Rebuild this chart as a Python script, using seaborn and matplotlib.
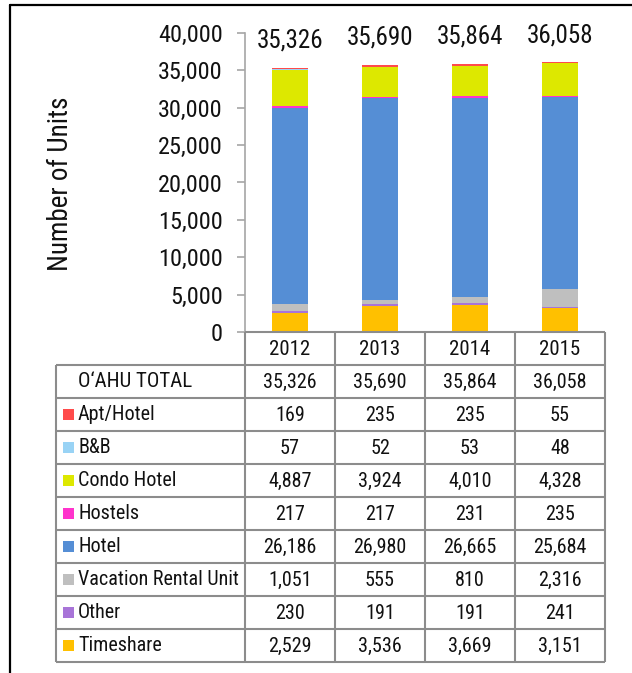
import numpy as np
import matplotlib
matplotlib.use("Agg")
import matplotlib.pyplot as plt
import seaborn as sns
from matplotlib.patches import Rectangle
from matplotlib.lines import Line2D

# ---------------- data ----------------
years = ["2012", "2013", "2014", "2015"]
totals = [35326, 35690, 35864, 36058]
categories = ["Apt/Hotel", "B&B", "Condo Hotel", "Hostels", "Hotel",
              "Vacation Rental Unit", "Other", "Timeshare"]
apt_hotel = [169, 235, 235, 55]
bnb = [57, 52, 53, 48]
condo_hotel = [4887, 3924, 4010, 4328]
hostels = [217, 217, 231, 235]
hotel = [26186, 26980, 26665, 25684]
vacation_rental = [1051, 555, 810, 2316]
other = [230, 191, 191, 241]
timeshare = [2529, 3536, 3669, 3151]
colors = ["#FF4B4B", "#99D3F5", "#DDE800", "#FF33CC", "#558ED5",
          "#BFBFBF", "#A874D8", "#FFC000"]
series = [apt_hotel, bnb, condo_hotel, hostels, hotel, vacation_rental, other, timeshare]
total_label = "O\u2018AHU TOTAL"

# ---------------- style ----------------
sns.set_theme(style="white")
plt.rcParams["font.family"] = ["Roboto Condensed", "Liberation Sans", "DejaVu Sans"]
txt = "#111111"
grid_c = "#8C8C8C"
tick_fs = 17.5
total_fs = 18
small = 14.5

W, H = 632, 673
fig = plt.figure(figsize=(W / 100, H / 100), dpi=100)

def fx(px):
    return px / W

def fy(py):
    return 1 - py / H

# ---------------- bar chart ----------------
ax = fig.add_axes([fx(245), fy(332), fx(605) - fx(245), fy(33) - fy(332)])
bottom = np.zeros(len(years))
# stack from bottom: Timeshare ... Apt/Hotel
for name, vals, col in reversed(list(zip(categories, series, colors))):
    sns.barplot(x=years, y=vals, bottom=bottom, color=col, saturation=1,
                width=0.4, errorbar=None, ax=ax, linewidth=0)
    bottom = bottom + np.array(vals)

ax.set_xlim(-0.5, 3.5)
ax.set_ylim(0, 40000)
ax.set_xticks([])
ax.set_xlabel("")
ax.set_ylabel("")
ax.set_yticks(range(0, 40001, 5000))
ax.set_yticklabels([f"{v:,}" for v in range(0, 40001, 5000)])
ax.tick_params(axis="y", left=True, direction="out", length=6, width=1.2,
               color="#A6A6A6", labelsize=tick_fs, labelcolor=txt, pad=10)
for s in ["top", "right", "bottom"]:
    ax.spines[s].set_visible(False)
ax.spines["left"].set_color("#A6A6A6")
ax.spines["left"].set_linewidth(1.2)
ax.patch.set_alpha(0)

for i, t in enumerate(totals):
    ax.annotate(f"{t:,}", (i, t), xytext=(0, 11), textcoords="offset points",
                ha="center", va="bottom", fontsize=total_fs, color=txt,
                annotation_clip=False)

fig.text(fx(61), fy(184), "Number of Units", rotation=90, ha="center",
         va="center", fontsize=19.5, color=txt)

# ---------------- table ----------------
tab = fig.add_axes([fx(56), fy(662), fx(605) - fx(56), fy(332) - fy(662)])
lab_w = (245 - 56) / 90
tab.set_xlim(-lab_w, 4)
tab.set_ylim(10, 0)
tab.axis("off")

lw = 1.5
tab.plot([0, 4], [0, 0], color=grid_c, lw=lw, clip_on=False, solid_capstyle="butt")
for r in range(1, 11):
    tab.plot([-lab_w, 4], [r, r], color=grid_c, lw=lw, clip_on=False, solid_capstyle="butt")
for c in range(0, 5):
    tab.plot([c, c], [0, 10], color=grid_c, lw=lw, clip_on=False, solid_capstyle="butt")
tab.plot([-lab_w, -lab_w], [1, 10], color=grid_c, lw=lw, clip_on=False, solid_capstyle="butt")

for j, y in enumerate(years):
    tab.text(j + 0.5, 0.52, y, ha="center", va="center", fontsize=15, color=txt)

label_x = -lab_w + (78 - 56) / 90
sq_x = -lab_w + (63 - 56) / 90
sq_w = 11 / 90
sq_h = 11 / 33

tab.text(label_x, 1.5, total_label, ha="left", va="center", fontsize=15, color=txt)
for j, t in enumerate(totals):
    tab.text(j + 0.5, 1.52, f"{t:,}", ha="center", va="center", fontsize=small, color=txt)

for i, (name, vals, col) in enumerate(zip(categories, series, colors)):
    r = i + 2
    tab.add_patch(Rectangle((sq_x, r + 0.5 - sq_h / 2), sq_w, sq_h,
                            facecolor=col, edgecolor="none"))
    tab.text(label_x, r + 0.5, name, ha="left", va="center", fontsize=small, color=txt)
    for j, v in enumerate(vals):
        tab.text(j + 0.5, r + 0.52, f"{v:,}", ha="center", va="center",
                 fontsize=small, color=txt)

# ---------------- outer frame ----------------
fig.add_artist(Line2D([fx(10), fx(10)], [fy(5), 0], color="black", lw=1.6,
                      transform=fig.transFigure))
fig.add_artist(Line2D([fx(10), 1], [fy(5), fy(5)], color="black", lw=1.6,
                      transform=fig.transFigure))

fig.savefig("out.png", dpi=100)
